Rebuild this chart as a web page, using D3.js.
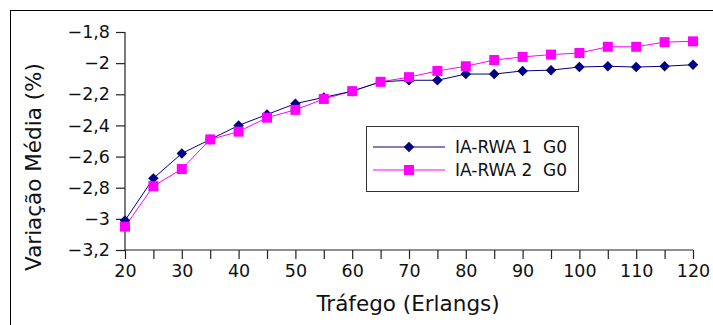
<!DOCTYPE html>
<html>
<head>
<meta charset="utf-8">
<script src="https://cdn.jsdelivr.net/npm/d3@7"></script>
<style>
  body { margin: 0; background: #fff; }
  svg { display: block; font-family: "DejaVu Sans", sans-serif; }
</style>
</head>
<body>
<svg id="chart" width="713" height="325"></svg>
<script>
// traffic load (Erlangs)
const trafego = [20, 25, 30, 35, 40, 45, 50, 55, 60, 65, 70, 75, 80, 85, 90, 95, 100, 105, 110, 115, 120]
const rwa1 = [-3.01, -2.74, -2.58, -2.49, -2.40, -2.33, -2.26, -2.22, -2.18, -2.12, -2.11, -2.11, -2.07, -2.07, -2.05, -2.045, -2.025, -2.02, -2.025, -2.02, -2.01]
const rwa2 = [-3.05, -2.79, -2.68, -2.49, -2.44, -2.35, -2.30, -2.23, -2.18, -2.12, -2.09, -2.05, -2.02, -1.98, -1.96, -1.945, -1.935, -1.895, -1.895, -1.865, -1.86]
const yTicks = [-3.2, -3, -2.8, -2.6, -2.4, -2.2, -2, -1.8]
const xTicks = [20, 25, 30, 35, 40, 45, 50, 55, 60, 65, 70, 75, 80, 85, 90, 95, 100, 105, 110, 115, 120]
const seriesNames = ['IA-RWA 1  G0', 'IA-RWA 2  G0']

const navy = '#000080', magenta = '#ff00ff'

const svg = d3.select('#chart')
const plotLeft = 125, plotRight = 693, plotTop = 32, plotBottom = 250

const x = d3.scaleLinear().domain([20, 120]).range([plotLeft, plotRight])
const y = d3.scaleLinear().domain([-3.2, -1.8]).range([plotBottom, plotTop])

const loc = d3.formatLocale({ decimal: ',', thousands: '.', grouping: [3], currency: ['', ''], minus: '\u2212' })
const fmt = loc.format('~g')

// outer frame
svg.append('rect')
    .attr('x', 10.5).attr('y', 10.5)
    .attr('width', 720).attr('height', 330)
    .attr('fill', 'none').attr('stroke', '#000').attr('stroke-width', 1)

const yAxis = d3.axisLeft(y).tickValues(yTicks).tickFormat(fmt).tickSize(9).tickPadding(6)
const xAxis = d3.axisBottom(x).tickValues(xTicks)
    .tickFormat(d => d % 10 === 0 ? fmt(d) : '').tickSize(9).tickPadding(6)

const gy = svg.append('g').attr('transform', `translate(${plotLeft},0)`).call(yAxis)
const gx = svg.append('g').attr('transform', `translate(0,${plotBottom})`).call(xAxis)
for (const g of [gx, gy]) {
    g.select('.domain').attr('stroke', '#222').attr('stroke-width', 1.2)
    g.selectAll('.tick line').attr('stroke', '#222').attr('stroke-width', 1.2)
    g.selectAll('.tick text').attr('fill', '#111').style('font-size', '17.5px').style('font-family', '"DejaVu Sans", sans-serif')
}
// plain domain lines without end caps
gy.select('.domain').attr('d', `M0,${plotBottom}V${plotTop}`)
gx.select('.domain').attr('d', `M${plotLeft},0H${plotRight}`)

// axis titles
svg.append('text')
    .attr('x', 408).attr('y', 311)
    .attr('text-anchor', 'middle')
    .style('font-size', '21.5px').attr('fill', '#111')
    .text('Tráfego (Erlangs)')

svg.append('text')
    .attr('transform', 'translate(41,167) rotate(-90)')
    .attr('text-anchor', 'middle')
    .style('font-size', '21.5px').attr('fill', '#111')
    .text('Variação Média (%)')

const line = d3.line().x((d, i) => x(trafego[i])).y(d => y(d))
// diamonds are squares turned 45 degrees
const diamond = d3.symbol().type(d3.symbolSquare).size(55)
const square = d3.symbol().type(d3.symbolSquare).size(100)

svg.append('path').attr('d', line(rwa2)).attr('fill', 'none').attr('stroke', magenta).attr('stroke-width', 1)
svg.append('path').attr('d', line(rwa1)).attr('fill', 'none').attr('stroke', navy).attr('stroke-width', 1)

svg.selectAll('path.rwa1')
    .data(rwa1)
    .enter()
    .append('path')
    .attr('class', 'rwa1')
    .attr('d', diamond)
    .attr('transform', (d, i) => `translate(${x(trafego[i])},${y(d)}) rotate(45)`)
    .attr('fill', navy)

svg.selectAll('path.rwa2')
    .data(rwa2)
    .enter()
    .append('path')
    .attr('class', 'rwa2')
    .attr('d', square)
    .attr('transform', (d, i) => `translate(${x(trafego[i])},${y(d)})`)
    .attr('fill', magenta)

// legend
const lg = svg.append('g').attr('transform', 'translate(366,126)')
lg.append('rect')
    .attr('x', 0.5).attr('y', 0.5).attr('width', 212).attr('height', 65)
    .attr('fill', '#fff').attr('stroke', '#333').attr('stroke-width', 1)

const entries = [
    { name: seriesNames[0], color: navy, sym: diamond, rot: 45 },
    { name: seriesNames[1], color: magenta, sym: square, rot: 0 }
]
entries.forEach((e, i) => {
    const cy = 21 + i * 23
    lg.append('line')
        .attr('x1', 7).attr('x2', 79).attr('y1', cy).attr('y2', cy)
        .attr('stroke', e.color).attr('stroke-width', 1)
    lg.append('path').attr('d', e.sym()).attr('transform', `translate(43,${cy}) rotate(${e.rot})`).attr('fill', e.color)
    lg.append('text')
        .attr('x', 89).attr('y', cy + 6)
        .style('font-size', '17px').style('white-space', 'pre').attr('fill', '#111')
        .text(e.name)
})
</script>
</body>
</html>
